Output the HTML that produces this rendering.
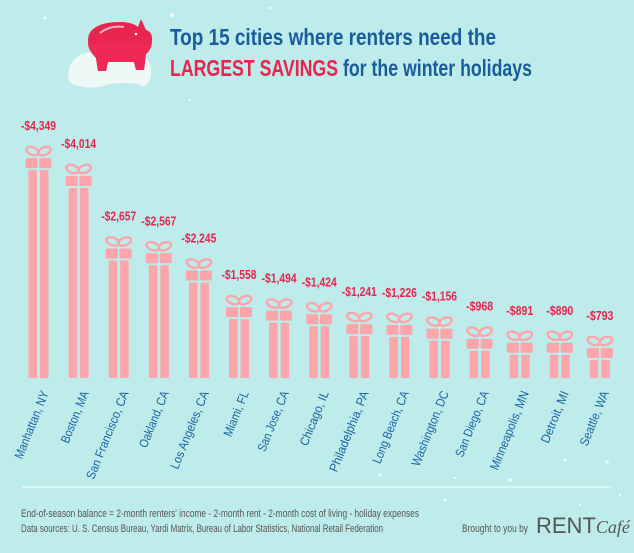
<!DOCTYPE html>
<html><head><meta charset="utf-8"><style>
html,body{margin:0;padding:0;background:#bdecea;}
svg{display:block}
.v{font:bold 12.5px "Liberation Sans Narrow","Liberation Sans",sans-serif;fill:#e8244f;text-anchor:middle}
.c{font:12.5px "Liberation Sans Narrow","Liberation Sans",sans-serif;fill:#1d63a3;text-anchor:end}
.f{font:11px "Liberation Sans Narrow","Liberation Sans",sans-serif;fill:#555}
</style></head><body>
<svg width="634" height="553" viewBox="0 0 634 553">
<defs>
<g id="lid"><rect x="-13" y="0" width="12.2" height="10" rx="1.5" fill="#fca5aa"/><rect x="0.8" y="0" width="12.2" height="10" rx="1.5" fill="#fca5aa"/>
<ellipse cx="-6" cy="-7" rx="6.5" ry="3.8" transform="rotate(20 -6 -7)" fill="none" stroke="#fca5aa" stroke-width="2.4"/>
<ellipse cx="6" cy="-7" rx="6.5" ry="3.8" transform="rotate(-20 6 -7)" fill="none" stroke="#fca5aa" stroke-width="2.4"/></g>
</defs>
<rect width="634" height="553" fill="#bdecea"/>
<g fill="#fff" opacity="0.8"><circle cx="45" cy="18" r="1.5"/><circle cx="172" cy="15" r="2"/><circle cx="270" cy="8" r="1.3"/><circle cx="150" cy="40" r="1.2"/><circle cx="190" cy="100" r="1.2"/><circle cx="565" cy="460" r="1.5"/><circle cx="607" cy="462" r="1.8"/><circle cx="510" cy="480" r="2"/><circle cx="380" cy="475" r="1.5"/><circle cx="455" cy="478" r="1.2"/><circle cx="445" cy="500" r="1.5"/><circle cx="620" cy="495" r="1.2"/><circle cx="580" cy="505" r="1.2"/></g>
<path d="M68 75 Q70 55 90 52 L140 54 Q155 60 150 80 Q145 90 138 84 Q125 82 110 84 Q92 90 80 86 Q68 85 68 75Z" fill="#eef8f6"/>
<path d="M92 30 Q100 22 120 22 Q132 22 138 27 L141 19 L146 30 Q153 32 152 42 Q151 50 146 54 L144 70 L136 70 L134 62 L108 62 L106 71 L98 71 L96 58 Q88 50 88 40 Q88 34 92 30Z" fill="#e8244f"/>
<path d="M88 43 L152 43 Q151 50 146 54 L144 70 L136 70 L134 62 L108 62 L106 71 L98 71 L96 58 Q88 50 88 43Z" fill="#ed2a57"/>
<path d="M100 33 Q110 25 124 27" fill="none" stroke="#f7b0c0" stroke-width="2"/>
<circle cx="136" cy="34" r="1.3" fill="#fff"/>
<text x="170" y="45" style="font:bold 23px 'Liberation Sans Narrow','Liberation Sans',sans-serif;fill:#1a5c9c" textLength="326" lengthAdjust="spacingAndGlyphs">Top 15 cities where renters need the</text>
<text x="170" y="76" style="font:bold 23px 'Liberation Sans Narrow','Liberation Sans',sans-serif;fill:#1a5c9c" textLength="362" lengthAdjust="spacingAndGlyphs"><tspan fill="#e8244f">LARGEST SAVINGS</tspan> for the winter holidays</text>
<g fill="#fca5aa">
<g transform="translate(38.5,158.1)"><use href="#lid"/><rect x="-10" y="12" width="8.5" height="208" rx="1"/><rect x="1.5" y="12" width="8.5" height="208" rx="1"/><text class="v" y="-28" textLength="35" lengthAdjust="spacingAndGlyphs">-$4,349</text></g>
<g transform="translate(78.6,176)"><use href="#lid"/><rect x="-10" y="12" width="8.5" height="190" rx="1"/><rect x="1.5" y="12" width="8.5" height="190" rx="1"/><text class="v" y="-28" textLength="35" lengthAdjust="spacingAndGlyphs">-$4,014</text></g>
<g transform="translate(118.7,248.5)"><use href="#lid"/><rect x="-10" y="12" width="8.5" height="117.5" rx="1"/><rect x="1.5" y="12" width="8.5" height="117.5" rx="1"/><text class="v" y="-28" textLength="35" lengthAdjust="spacingAndGlyphs">-$2,657</text></g>
<g transform="translate(158.8,253.3)"><use href="#lid"/><rect x="-10" y="12" width="8.5" height="112.7" rx="1"/><rect x="1.5" y="12" width="8.5" height="112.7" rx="1"/><text class="v" y="-28" textLength="35" lengthAdjust="spacingAndGlyphs">-$2,567</text></g>
<g transform="translate(198.9,270.5)"><use href="#lid"/><rect x="-10" y="12" width="8.5" height="95.5" rx="1"/><rect x="1.5" y="12" width="8.5" height="95.5" rx="1"/><text class="v" y="-28" textLength="35" lengthAdjust="spacingAndGlyphs">-$2,245</text></g>
<g transform="translate(239,307.1)"><use href="#lid"/><rect x="-10" y="12" width="8.5" height="58.9" rx="1"/><rect x="1.5" y="12" width="8.5" height="58.9" rx="1"/><text class="v" y="-28" textLength="35" lengthAdjust="spacingAndGlyphs">-$1,558</text></g>
<g transform="translate(279.1,310.6)"><use href="#lid"/><rect x="-10" y="12" width="8.5" height="55.4" rx="1"/><rect x="1.5" y="12" width="8.5" height="55.4" rx="1"/><text class="v" y="-28" textLength="35" lengthAdjust="spacingAndGlyphs">-$1,494</text></g>
<g transform="translate(319.2,314.3)"><use href="#lid"/><rect x="-10" y="12" width="8.5" height="51.7" rx="1"/><rect x="1.5" y="12" width="8.5" height="51.7" rx="1"/><text class="v" y="-28" textLength="35" lengthAdjust="spacingAndGlyphs">-$1,424</text></g>
<g transform="translate(359.3,324.1)"><use href="#lid"/><rect x="-10" y="12" width="8.5" height="41.9" rx="1"/><rect x="1.5" y="12" width="8.5" height="41.9" rx="1"/><text class="v" y="-28" textLength="35" lengthAdjust="spacingAndGlyphs">-$1,241</text></g>
<g transform="translate(399.4,324.9)"><use href="#lid"/><rect x="-10" y="12" width="8.5" height="41.1" rx="1"/><rect x="1.5" y="12" width="8.5" height="41.1" rx="1"/><text class="v" y="-28" textLength="35" lengthAdjust="spacingAndGlyphs">-$1,226</text></g>
<g transform="translate(439.5,328.6)"><use href="#lid"/><rect x="-10" y="12" width="8.5" height="37.4" rx="1"/><rect x="1.5" y="12" width="8.5" height="37.4" rx="1"/><text class="v" y="-28" textLength="35" lengthAdjust="spacingAndGlyphs">-$1,156</text></g>
<g transform="translate(479.6,338.7)"><use href="#lid"/><rect x="-10" y="12" width="8.5" height="27.3" rx="1"/><rect x="1.5" y="12" width="8.5" height="27.3" rx="1"/><text class="v" y="-28" textLength="27" lengthAdjust="spacingAndGlyphs">-$968</text></g>
<g transform="translate(519.7,342.8)"><use href="#lid"/><rect x="-10" y="12" width="8.5" height="23.2" rx="1"/><rect x="1.5" y="12" width="8.5" height="23.2" rx="1"/><text class="v" y="-28" textLength="27" lengthAdjust="spacingAndGlyphs">-$891</text></g>
<g transform="translate(559.8,342.8)"><use href="#lid"/><rect x="-10" y="12" width="8.5" height="23.2" rx="1"/><rect x="1.5" y="12" width="8.5" height="23.2" rx="1"/><text class="v" y="-28" textLength="27" lengthAdjust="spacingAndGlyphs">-$890</text></g>
<g transform="translate(599.9,348)"><use href="#lid"/><rect x="-10" y="12" width="8.5" height="18" rx="1"/><rect x="1.5" y="12" width="8.5" height="18" rx="1"/><text class="v" y="-28" textLength="27" lengthAdjust="spacingAndGlyphs">-$793</text></g>
</g>
<text class="c" transform="translate(49,393) rotate(-68)" textLength="72" lengthAdjust="spacingAndGlyphs">Manhattan, NY</text>
<text class="c" transform="translate(89,393) rotate(-68)" textLength="55" lengthAdjust="spacingAndGlyphs">Boston, MA</text>
<text class="c" transform="translate(129,393) rotate(-68)" textLength="94" lengthAdjust="spacingAndGlyphs">San Francisco, CA</text>
<text class="c" transform="translate(169,393) rotate(-68)" textLength="60" lengthAdjust="spacingAndGlyphs">Oakland, CA</text>
<text class="c" transform="translate(209,393) rotate(-68)" textLength="83" lengthAdjust="spacingAndGlyphs">Los Angeles, CA</text>
<text class="c" transform="translate(249,393) rotate(-68)" textLength="48" lengthAdjust="spacingAndGlyphs">Miami, FL</text>
<text class="c" transform="translate(289,393) rotate(-68)" textLength="64" lengthAdjust="spacingAndGlyphs">San Jose, CA</text>
<text class="c" transform="translate(329,393) rotate(-68)" textLength="58" lengthAdjust="spacingAndGlyphs">Chicago, IL</text>
<text class="c" transform="translate(369,393) rotate(-68)" textLength="86" lengthAdjust="spacingAndGlyphs">Philadelphia, PA</text>
<text class="c" transform="translate(409,393) rotate(-68)" textLength="77" lengthAdjust="spacingAndGlyphs">Long Beach, CA</text>
<text class="c" transform="translate(449,393) rotate(-68)" textLength="80" lengthAdjust="spacingAndGlyphs">Washington, DC</text>
<text class="c" transform="translate(489,393) rotate(-68)" textLength="70" lengthAdjust="spacingAndGlyphs">San Diego, CA</text>
<text class="c" transform="translate(529,393) rotate(-68)" textLength="84" lengthAdjust="spacingAndGlyphs">Minneapolis, MN</text>
<text class="c" transform="translate(569,393) rotate(-68)" textLength="55" lengthAdjust="spacingAndGlyphs">Detroit, MI</text>
<text class="c" transform="translate(609,393) rotate(-68)" textLength="58" lengthAdjust="spacingAndGlyphs">Seattle, WA</text>
<line x1="22" y1="487" x2="612" y2="487" stroke="#e6f8f6" stroke-width="1.5"/>
<text class="f" x="21" y="517" textLength="398" lengthAdjust="spacingAndGlyphs">End-of-season balance = 2-month renters' income - 2-month rent - 2-month cost of living - holiday expenses</text>
<text class="f" x="21" y="532" textLength="362" lengthAdjust="spacingAndGlyphs">Data sources: U. S. Census Bureau, Yardi Matrix, Bureau of Labor Statistics, National Retail Federation</text>
<text class="f" x="462" y="532" textLength="66" lengthAdjust="spacingAndGlyphs">Brought to you by</text>
<text x="536" y="533" style="font:22px 'Liberation Sans Narrow','Liberation Sans',sans-serif;fill:#555">RENT<tspan style="font:italic 18px 'Liberation Serif',serif">Café</tspan></text>
</svg>
</body></html>
